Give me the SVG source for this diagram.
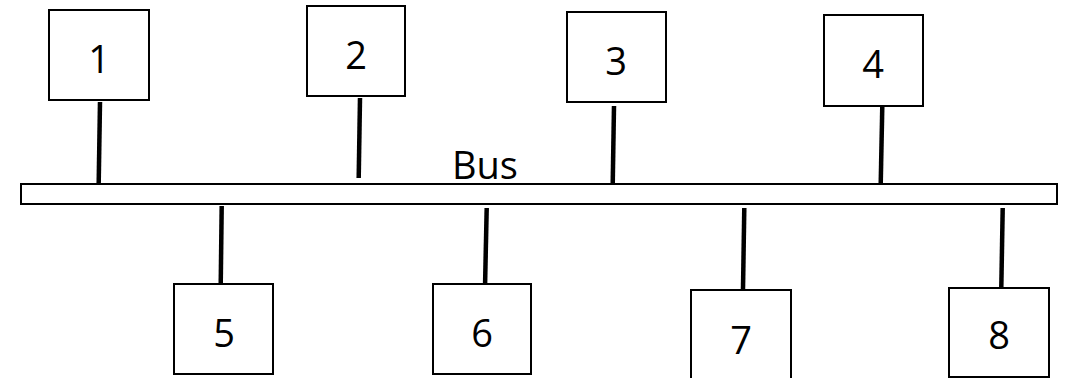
<svg xmlns="http://www.w3.org/2000/svg" width="1066" height="378" viewBox="0 0 1066 378">
  <style>
    .box { fill: #ffffff; stroke: #000000; stroke-width: 2; }
    .lbl { font-family: "Open Sans", "Noto Sans", "Liberation Sans", sans-serif; font-size: 38px; fill: #000000; text-anchor: middle; }
    .tap { stroke: #000000; stroke-width: 4.5; stroke-linecap: butt; fill: none; }
  </style>
  <rect x="0" y="0" width="1066" height="378" fill="#ffffff"/>

  <!-- shared bus -->
  <g id="bus">
    <rect class="box" x="21" y="184" width="1036" height="20"/>
    <text class="lbl" x="452" y="179" style="text-anchor:start">Bus</text>
  </g>

  <!-- drop lines from each station to the bus -->
  <g id="connectors">
    <line class="tap" x1="100" y1="102" x2="98.7" y2="183"/>
    <line class="tap" x1="360" y1="98" x2="358.7" y2="178"/>
    <line class="tap" x1="614" y1="106" x2="612.7" y2="185"/>
    <line class="tap" x1="882.3" y1="106" x2="880.7" y2="185"/>
    <line class="tap" x1="221.7" y1="206" x2="220.7" y2="286"/>
    <line class="tap" x1="486.7" y1="208" x2="485" y2="288"/>
    <line class="tap" x1="744.3" y1="208" x2="743" y2="289"/>
    <line class="tap" x1="1002.7" y1="208" x2="1001.3" y2="288"/>
  </g>

  <!-- stations above the bus -->
  <g id="node1"><rect class="box" x="49" y="10" width="100" height="90"/><text class="lbl" x="99" y="73">1</text></g>
  <g id="node2"><rect class="box" x="307" y="6" width="98" height="90"/><text class="lbl" x="356" y="69">2</text></g>
  <g id="node3"><rect class="box" x="567" y="12" width="99" height="90"/><text class="lbl" x="616" y="75">3</text></g>
  <g id="node4"><rect class="box" x="824" y="15" width="99" height="91"/><text class="lbl" x="873" y="78">4</text></g>

  <!-- stations below the bus -->
  <g id="node5"><rect class="box" x="174" y="284" width="99" height="90"/><text class="lbl" x="224" y="347">5</text></g>
  <g id="node6"><rect class="box" x="433" y="284" width="98" height="90"/><text class="lbl" x="482" y="347">6</text></g>
  <g id="node7"><rect class="box" x="691" y="290" width="100" height="95"/><text class="lbl" x="741" y="354">7</text></g>
  <g id="node8"><rect class="box" x="949" y="288" width="100" height="89"/><text class="lbl" x="999" y="349">8</text></g>
</svg>
